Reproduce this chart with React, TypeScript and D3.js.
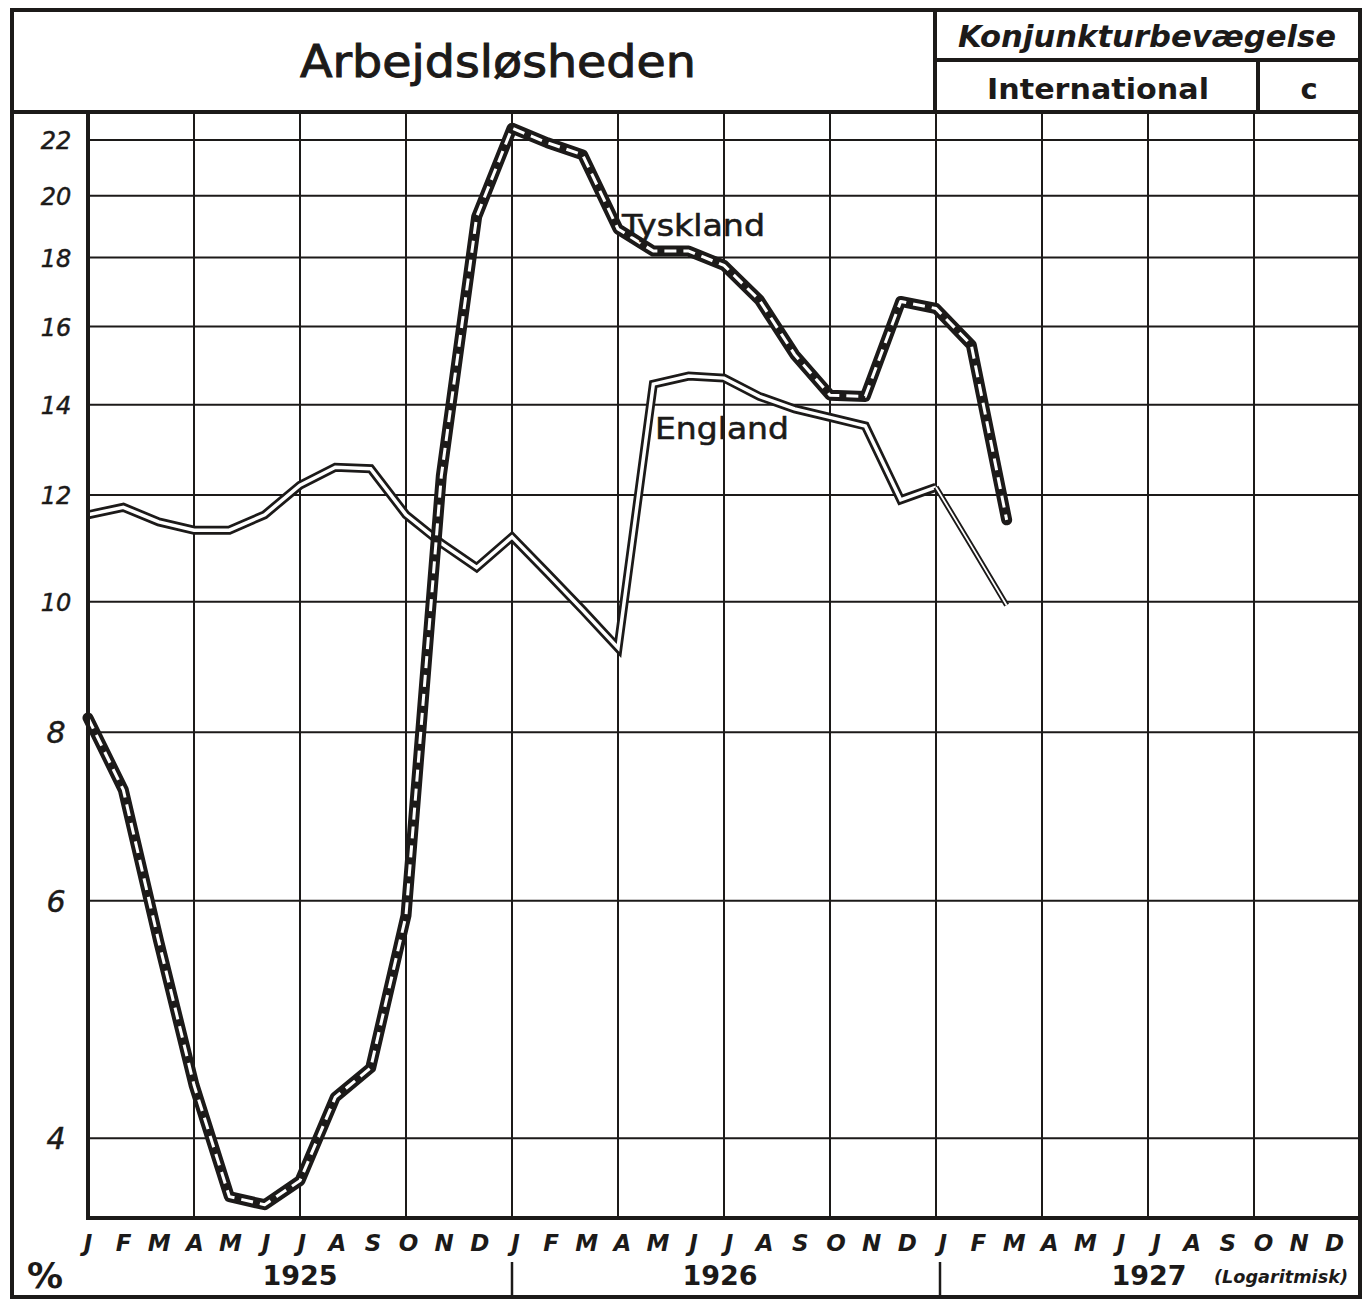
import React from "react";
import * as d3 from "d3";

// months Jan 1925 .. Mar 1927 (index 0 = Jan 1925)
const tyskland = [
  8.2, 7.25, 5.6, 4.38, 3.62, 3.57, 3.72, 4.29, 4.51, 5.85, 12.4, 19.3,
  22.45, 21.9, 21.45, 18.9, 18.2, 18.2, 17.76, 16.74, 15.25, 14.23, 14.2, 16.7,
  16.5, 15.5, 11.5,
];
const england = [
  11.6, 11.75, 11.46, 11.3, 11.3, 11.6, 12.2, 12.58, 12.55, 11.6, 11.05, 10.6,
  11.17, 10.5, 9.86, 9.24, 14.5, 14.7, 14.65, 14.2, 13.9, 13.7, 13.5, 11.9,
  12.16, 11.0, 9.94,
];
const englandThinFrom = 24; // provisional part drawn thinner

const yTicks = [4, 6, 8, 10, 12, 14, 16, 18, 20, 22];
const monthLetters = ["J", "F", "M", "A", "M", "J", "J", "A", "S", "O", "N", "D"];
const years = ["1925", "1926", "1927"];

const W = 1371;
const H = 1301;
const INK = "#1c1a19";
const FONT = "'DejaVu Sans', sans-serif";

export default function App() {
  const frame = { left: 12, top: 10, right: 1360, bottom: 1297 };
  const plot = { left: 88, top: 112, right: 1360, bottom: 1218 };

  const x = d3.scaleLinear().domain([0, 36]).range([plot.left, plot.right]);
  const y = d3.scaleLog().domain([3.49, 23.08]).range([plot.bottom, plot.top]);

  const lineFrom = (start: number) =>
    d3
      .line<number>()
      .x((_, i) => x(i + start))
      .y((d) => y(d));

  const tPath = lineFrom(0)(tyskland) || "";
  const eMain = lineFrom(0)(england.slice(0, englandThinFrom + 1)) || "";
  const eThin = lineFrom(englandThinFrom)(england.slice(englandThinFrom)) || "";

  const monthIdx = d3.range(36);
  const vGrid = d3.range(3, 36, 3);

  return (
    <div>
      <style>{`body{margin:0;background:#fff}`}</style>
      <svg width={W} height={H} style={{ display: "block" }}>
        <rect x={0} y={0} width={W} height={H} fill="#fff" />

        {/* grid */}
        <g stroke={INK} strokeWidth={2}>
          {yTicks.map((t) => (
            <line key={"h" + t} x1={plot.left} x2={plot.right} y1={y(t)} y2={y(t)} />
          ))}
          {vGrid.map((m) => (
            <line key={"v" + m} x1={x(m)} x2={x(m)} y1={plot.top} y2={plot.bottom} />
          ))}
        </g>

        {/* England */}
        <g fill="none" strokeLinejoin="miter">
          <path d={eMain} stroke={INK} strokeWidth={9} />
          <path d={eMain} stroke="#fff" strokeWidth={3.5} />
          <path d={eThin} stroke={INK} strokeWidth={5.5} />
          <path d={eThin} stroke="#fff" strokeWidth={1.8} />
        </g>

        {/* Tyskland */}
        <g fill="none" strokeLinejoin="round">
          <path d={tPath} stroke={INK} strokeWidth={11} strokeLinecap="round" />
          <path d={tPath} stroke="#fff" strokeWidth={3} strokeDasharray="12 7" />
        </g>

        {/* series labels */}
        <g fontFamily={FONT} fontSize={31} fill={INK} stroke={INK} strokeWidth={0.6}>
          <text x={622} y={236} textLength={143} lengthAdjust="spacingAndGlyphs">
            Tyskland
          </text>
          <text x={655} y={439} textLength={134} lengthAdjust="spacingAndGlyphs">
            England
          </text>
        </g>

        {/* axes */}
        <line x1={plot.left} x2={plot.left} y1={plot.top} y2={plot.bottom + 2} stroke={INK} strokeWidth={4} />
        <line x1={plot.left - 2} x2={plot.right} y1={plot.bottom} y2={plot.bottom} stroke={INK} strokeWidth={4} />

        {/* y tick labels */}
        <g fontFamily={FONT} fontStyle="italic" fill={INK} stroke={INK} strokeWidth={0.5} textAnchor="middle">
          {yTicks.map((t) => (
            <text key={"yl" + t} x={56} y={y(t) + (t < 10 ? 11 : 9)} fontSize={t < 10 ? 30 : 24}>
              {t}
            </text>
          ))}
        </g>

        {/* month labels */}
        <g fontFamily={FONT} fontStyle="italic" fontWeight="bold" fontSize={23} fill={INK} textAnchor="middle">
          {monthIdx.map((m) => (
            <text key={"m" + m} x={x(m) + (m / 35) * 10} y={1251}>
              {monthLetters[m % 12]}
            </text>
          ))}
        </g>

        {/* year labels */}
        <g fontFamily={FONT} fontWeight="bold" fontSize={27} fill={INK} textAnchor="middle">
          <text x={x(6)} y={1285}>{years[0]}</text>
          <text x={x(18) - 4} y={1285}>{years[1]}</text>
          <text x={x(30) + 1} y={1285}>{years[2]}</text>
        </g>
        <text x={1214} y={1283} fontFamily={FONT} fontStyle="italic" fontWeight="bold" fontSize={17} fill={INK} textLength={134} lengthAdjust="spacingAndGlyphs">
          (Logaritmisk)
        </text>
        <text x={45} y={1288} fontFamily={FONT} fontWeight="bold" fontSize={36} fill={INK} textAnchor="middle">
          %
        </text>
        <g stroke={INK} strokeWidth={2.5}>
          <line x1={x(12)} x2={x(12)} y1={1262} y2={frame.bottom} />
          <line x1={x(24) + 4} x2={x(24) + 4} y1={1262} y2={frame.bottom} />
        </g>

        {/* title block */}
        <g stroke={INK} strokeWidth={4} fill="none">
          <rect x={frame.left} y={frame.top} width={frame.right - frame.left} height={frame.bottom - frame.top} />
          <line x1={frame.left} x2={frame.right} y1={plot.top} y2={plot.top} />
          <line x1={935} x2={935} y1={frame.top} y2={plot.top} />
          <line x1={935} x2={frame.right} y1={60} y2={60} />
          <line x1={1258} x2={1258} y1={60} y2={plot.top} />
        </g>
        <text x={300} y={77} fontFamily={FONT} fontSize={44} fill={INK} stroke={INK} strokeWidth={1} textLength={396} lengthAdjust="spacingAndGlyphs">
          Arbejdsløsheden
        </text>
        <text x={958} y={47} fontFamily={FONT} fontStyle="italic" fontWeight="bold" fontSize={31} fill={INK} textLength={378} lengthAdjust="spacingAndGlyphs">
          Konjunkturbevægelse
        </text>
        <text x={987} y={99} fontFamily={FONT} fontWeight="bold" fontSize={29} fill={INK} textLength={222} lengthAdjust="spacingAndGlyphs">
          International
        </text>
        <text x={1309} y={99} fontFamily={FONT} fontWeight="bold" fontSize={29} fill={INK} textAnchor="middle">
          c
        </text>
      </svg>
    </div>
  );
}
